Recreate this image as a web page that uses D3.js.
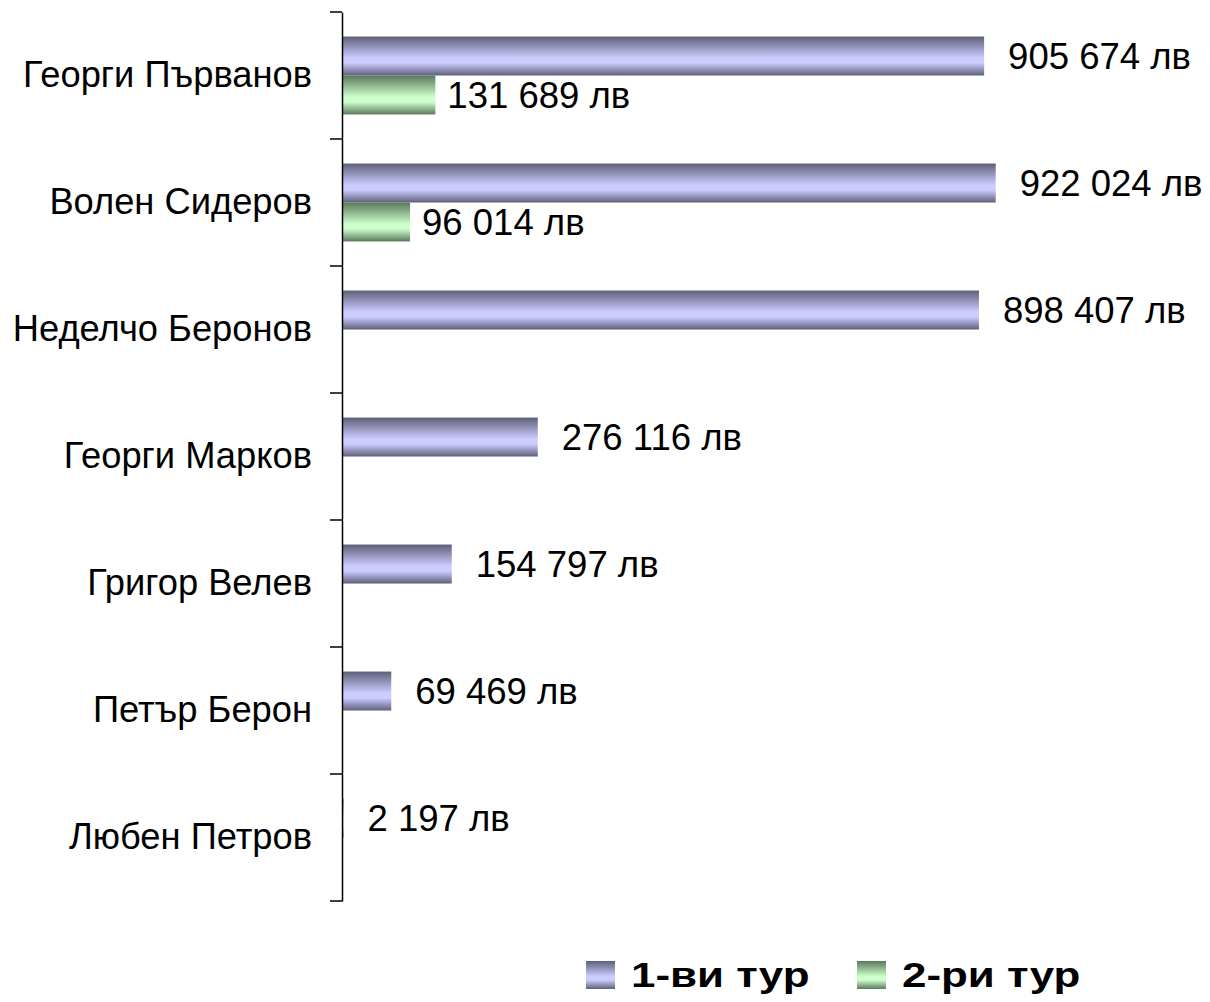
<!DOCTYPE html>
<html><head><meta charset="utf-8">
<script src="https://cdn.jsdelivr.net/npm/d3@7"></script>
<style>body{margin:0;background:#fff}svg{display:block}text{font-family:"Liberation Sans",Arial,sans-serif}</style>
</head><body>
<svg id="c" width="1210" height="1002"></svg>
<script>
const categories = ["Георги Първанов","Волен Сидеров","Неделчо Беронов","Георги Марков","Григор Велев","Петър Берон","Любен Петров"];
const round1 = [905674, 922024, 898407, 276116, 154797, 69469, 2197];
const round2 = [131689, 96014, null, null, null, null, null];
const seriesNames = ["1-ви тур","2-ри тур"];

const svg = d3.select("#c");
const fmt = v => d3.format(",")(v).replace(/,/g, " ") + " лв";

const x = d3.scaleLinear().domain([0, 1000000]).range([342, 1051]);
const y = d3.scaleBand().domain(categories).range([12, 901]).paddingInner(0).paddingOuter(0);
const inner = d3.scaleBand().domain([0,1]).range([0, y.bandwidth()]).paddingInner(0).paddingOuter(0.63);

const defs = svg.append("defs");
function grad(id, edge, mid){
  const g = defs.append("linearGradient").attr("id", id).attr("x1",0).attr("y1",0).attr("x2",0).attr("y2",1);
  g.append("stop").attr("offset","0%").attr("stop-color",edge);
  g.append("stop").attr("offset","55%").attr("stop-color",mid);
  g.append("stop").attr("offset","68%").attr("stop-color",mid);
  g.append("stop").attr("offset","100%").attr("stop-color",edge);
}
grad("gBlue", "#5f5f7a", "#ccccff");
grad("gGreen", "#5a785a", "#ccffcc");

const series = [
  {name: seriesNames[0], values: round1, fill: "url(#gBlue)", off: 24},
  {name: seriesNames[1], values: round2, fill: "url(#gGreen)", off: 12}
];

series.forEach((s, si) => {
  const data = categories.map((c, i) => ({c, v: s.values[i]})).filter(d => d.v != null);
  const g = svg.append("g");
  g.selectAll("rect").data(data).join("rect")
    .attr("x", x(0)).attr("y", d => y(d.c) + inner(si))
    .attr("width", d => x(d.v) - x(0)).attr("height", inner.bandwidth())
    .attr("fill", s.fill);
  g.selectAll("text").data(data).join("text")
    .attr("x", d => x(d.v) + s.off).attr("y", d => y(d.c) + inner(si) + inner.bandwidth()/2)
    .attr("dy", "0.35em").attr("font-size", 36.5).attr("fill", "#000")
    .text(d => fmt(d.v));
});

// axis
const ax = svg.append("g").attr("transform", `translate(${x(0)},0)`)
  .call(d3.axisLeft(y).tickSizeInner(0).tickSizeOuter(0).tickPadding(30));
ax.select(".domain").attr("stroke", "#000").attr("stroke-width", 1.5);
ax.selectAll(".tick text").attr("font-size", 36.3).attr("fill", "#000");
const bounds = categories.map(c => y(c)).concat([y.range()[1]]);
ax.selectAll("line.bt").data(bounds).join("line").attr("class","bt")
  .attr("x1", -12).attr("x2", 0).attr("y1", d => d).attr("y2", d => d)
  .attr("stroke", "#000").attr("stroke-width", 1.5);

// legend
const leg = svg.append("g");
const lx = [586, 857];
series.forEach((s, i) => {
  leg.append("rect").attr("x", lx[i]).attr("y", 961).attr("width", 29).attr("height", 28).attr("fill", s.fill);
  leg.append("text").attr("transform", `translate(${lx[i] + 45},974.5) scale(1.22,1)`)
    .attr("dy", "0.35em")
    .attr("font-size", 36).attr("font-weight", "bold").attr("fill", "#000").text(s.name);
});
</script>
</body></html>
